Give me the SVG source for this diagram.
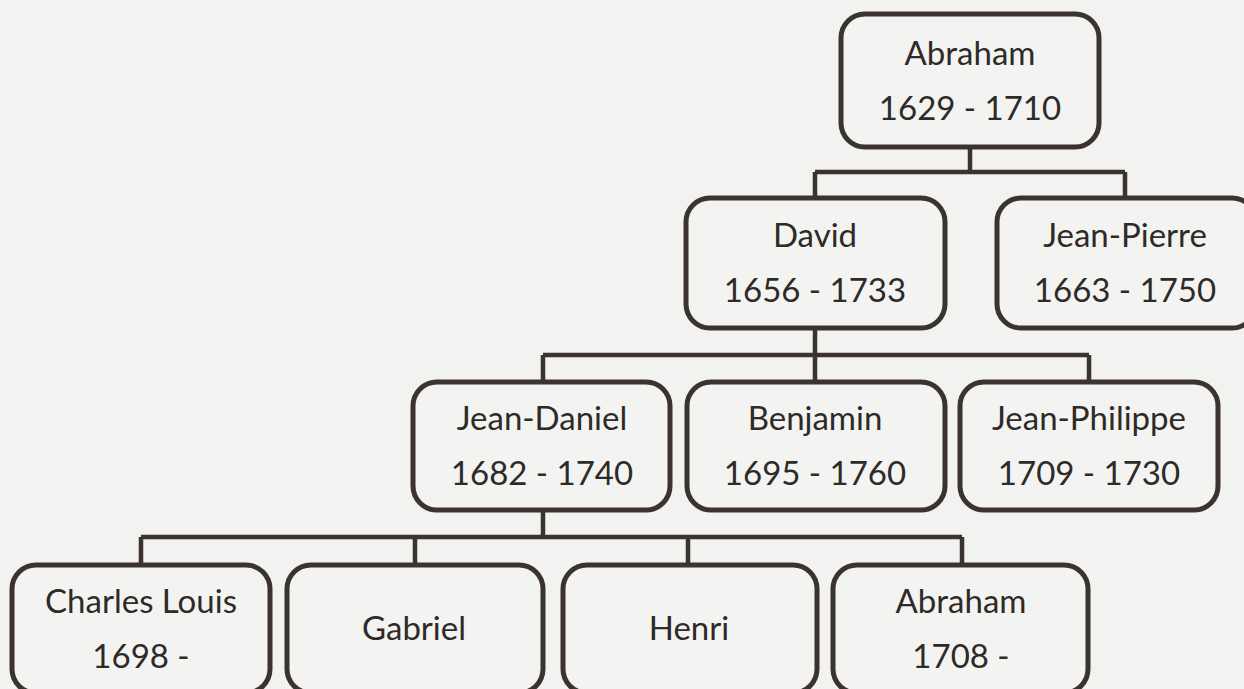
<svg xmlns="http://www.w3.org/2000/svg" width="1244" height="689" viewBox="0 0 1244 689">
<style>
.box{fill:#f3f3f1;stroke:#3a332e;stroke-width:5}
.ln{fill:none;stroke:#3a332e;stroke-width:4.5;stroke-linejoin:miter}
text{font-family:Lato,"Open Sans","Liberation Sans",sans-serif;font-size:33px;fill:#2e2a27;text-anchor:middle}
</style>
<rect width="1244" height="689" fill="#f2f2f0"/>
<g id="connectors">
<path class="ln" d="M970 147V172M815 172H1125M815 172V198M1125 172V198"/>
<path class="ln" d="M815 328V355M543 355H1089M543 355V382M815 355V382M1089 355V382"/>
<path class="ln" d="M543 510V537M141 537H962M141 537V565M415 537V565M688 537V565M962 537V565"/>
</g>
<g id="n-abraham1"><rect class="box" x="841" y="14" width="258" height="133" rx="24"/><text x="970" y="65">Abraham</text><text x="970" y="120">1629 - 1710</text></g>
<g id="n-david"><rect class="box" x="686" y="198" width="259" height="130" rx="24"/><text x="815" y="247">David</text><text x="815" y="302">1656 - 1733</text></g>
<g id="n-jeanpierre"><rect class="box" x="997" y="198" width="259" height="130" rx="24"/><text x="1125" y="247">Jean-Pierre</text><text x="1125" y="302">1663 - 1750</text></g>
<g id="n-jeandaniel"><rect class="box" x="413" y="382" width="257" height="128" rx="24"/><text x="542" y="430">Jean-Daniel</text><text x="542" y="485">1682 - 1740</text></g>
<g id="n-benjamin"><rect class="box" x="687" y="382" width="258" height="128" rx="24"/><text x="815" y="430">Benjamin</text><text x="815" y="485">1695 - 1760</text></g>
<g id="n-jeanphilippe"><rect class="box" x="960" y="382" width="258" height="128" rx="24"/><text x="1089" y="430">Jean-Philippe</text><text x="1089" y="485">1709 - 1730</text></g>
<g id="n-charleslouis"><rect class="box" x="12" y="565" width="258" height="128" rx="24"/><text x="141" y="613">Charles Louis</text><text x="141" y="668">1698 -</text></g>
<g id="n-gabriel"><rect class="box" x="287" y="565" width="256" height="128" rx="24"/><text x="414" y="640">Gabriel</text></g>
<g id="n-henri"><rect class="box" x="563" y="565" width="254" height="128" rx="24"/><text x="689" y="640">Henri</text></g>
<g id="n-abraham2"><rect class="box" x="833" y="565" width="255" height="128" rx="24"/><text x="961" y="613">Abraham</text><text x="961" y="668">1708 -</text></g>
</svg>
